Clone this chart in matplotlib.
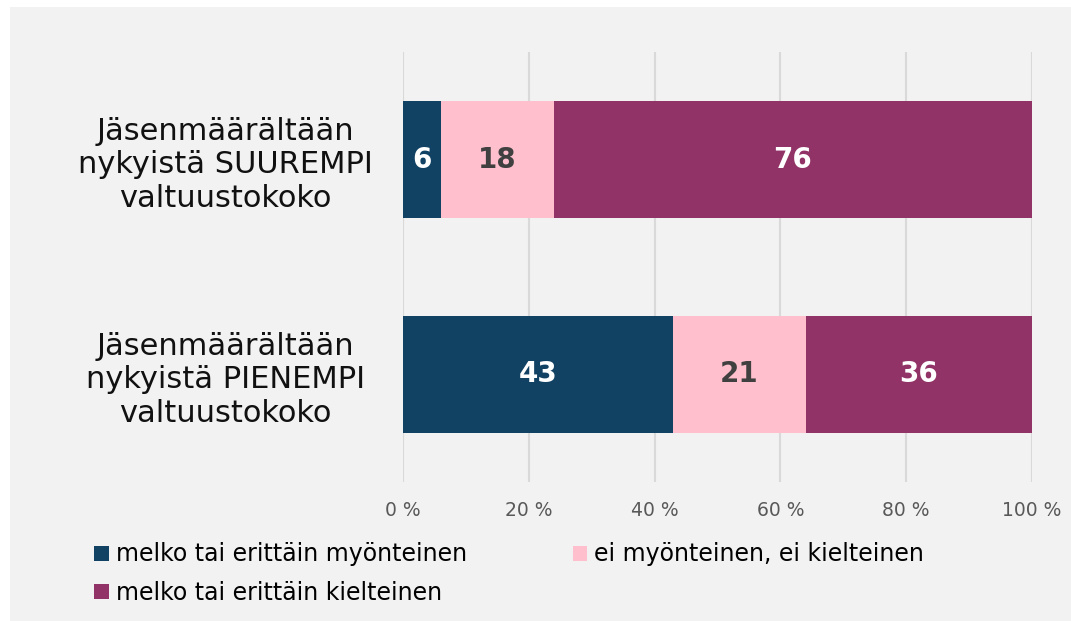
import matplotlib
matplotlib.use('Agg')
import matplotlib.pyplot as plt
from matplotlib.patches import Rectangle, Patch
import numpy as np

plt.rcParams['font.family'] = ['DejaVu Sans']

categories = ['Jäsenmäärältään\nnykyistä SUUREMPI\nvaltuustokoko',
              'Jäsenmäärältään\nnykyistä PIENEMPI\nvaltuustokoko']
series_names = ['melko tai erittäin myönteinen',
                'ei myönteinen, ei kielteinen',
                'melko tai erittäin kielteinen']
myonteinen = [6, 43]
neutraali = [18, 21]
kielteinen = [76, 36]
x_ticks = [0, 20, 40, 60, 80, 100]
x_ticklabels = ['0 %', '20 %', '40 %', '60 %', '80 %', '100 %']

colors = ['#124263', '#ffbfcd', '#913366']
text_colors = ['white', '#404040', 'white']

fig = plt.figure(figsize=(10.71, 6.21), dpi=100, facecolor='white')
# harmaa tausta (valkoinen reuna vasemmalla ja ylhäällä)
fig.patches.append(Rectangle((10/1071, 0), 1 - 10/1071, 1 - 7/621,
                             transform=fig.transFigure, facecolor='#f2f2f2',
                             edgecolor='none', zorder=-5))

ax = fig.add_axes([403/1071, 1 - 482/621, (1032 - 403)/1071, (482 - 52)/621])
ax.set_facecolor('none')

y = np.arange(len(categories))
vasen = np.zeros(len(categories))
for sarja, nimi, vari, tvari in zip([myonteinen, neutraali, kielteinen],
                                     series_names, colors, text_colors):
    arvot = np.array(sarja, dtype=float)
    palkit = ax.barh(y, arvot, left=vasen, height=0.545, color=vari,
                     label=nimi, zorder=3)
    ax.bar_label(palkit, labels=[str(int(v)) for v in arvot], label_type='center',
                 color=tvari, fontsize=20, fontweight='bold')
    vasen = vasen + arvot

ax.set_xlim(0, 100)
ax.set_ylim(1.5, -0.5)
ax.set_xticks(x_ticks)
ax.set_xticklabels(x_ticklabels, fontsize=13.5, color='#595959')
ax.set_yticks(y)
ax.set_yticklabels(categories, fontsize=22, color='#111111', ha='center',
                   multialignment='center', linespacing=1.2)
ax.tick_params(axis='y', length=0, pad=128)
ax.tick_params(axis='x', length=0, pad=14)
ax.grid(axis='x', color='#d9d9d9', linewidth=1.5, zorder=0)
for s in ax.spines.values():
    s.set_visible(False)

# legendan järjestys: rivi 1 = myönteinen, neutraali; rivi 2 = kielteinen
jarjestys = [0, 2, 1]
kahvat = [Patch(facecolor=colors[i], edgecolor='none') for i in jarjestys]
nimet = [series_names[i] for i in jarjestys]
fig.legend(kahvat, nimet, loc='upper left',
           bbox_to_anchor=(85/1071, 1 - 533/621), ncol=2, frameon=False,
           fontsize=17, handlelength=0.6, handleheight=0.6, handletextpad=0.3,
           columnspacing=4.5, labelspacing=0.6, borderaxespad=0)

fig.savefig('out.png', dpi=100, facecolor='white')
